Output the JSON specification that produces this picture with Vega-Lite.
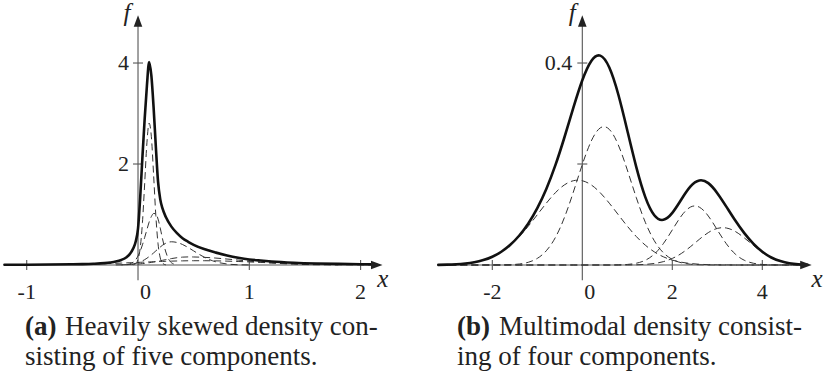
{
  "$schema": "https://vega.github.io/schema/vega-lite/v6.json",
  "background": "white",
  "padding": 0,
  "autosize": {"type": "pad"},
  "bounds": "flush",
  "columns": 2,
  "spacing": {"row": 62.5, "column": 20},
  "config": {
    "view": {"stroke": null},
    "font": "Liberation Serif",
    "text": {"font": "Liberation Serif"}
  },
  "datasets": {
    "skewed": [
      {"x": -1.2, "total": 0.004},
      {"x": -1.0, "total": 0.006},
      {"x": -0.8, "total": 0.009},
      {"x": -0.6, "total": 0.014, "c5": 0.0096},
      {"x": -0.5, "total": 0.018, "c5": 0.0137},
      {"x": -0.4, "total": 0.025, "c5": 0.0191},
      {"x": -0.3, "total": 0.038, "c5": 0.0258},
      {"x": -0.25, "total": 0.05, "c5": 0.0295},
      {"x": -0.2, "total": 0.068, "c4": 0.002, "c5": 0.0335},
      {"x": -0.15, "total": 0.1, "c3": 0.003, "c4": 0.004, "c5": 0.0378},
      {"x": -0.1, "total": 0.16, "c2": 0.008, "c3": 0.008, "c4": 0.007, "c5": 0.0423},
      {"x": -0.08, "total": 0.2, "c2": 0.017, "c3": 0.012, "c4": 0.009, "c5": 0.0441},
      {"x": -0.06, "total": 0.26, "c2": 0.033, "c3": 0.017, "c4": 0.011, "c5": 0.046},
      {"x": -0.04, "total": 0.34, "c1": 0.005, "c2": 0.061, "c3": 0.024, "c4": 0.013, "c5": 0.0478},
      {"x": -0.02, "total": 0.47, "c1": 0.027, "c2": 0.108, "c3": 0.034, "c4": 0.016, "c5": 0.0497},
      {"x": 0, "total": 0.72, "c1": 0.109, "c2": 0.178, "c3": 0.046, "c4": 0.02, "c5": 0.0516},
      {"x": 0.02, "total": 1.35, "c1": 0.344, "c2": 0.275, "c3": 0.062, "c4": 0.024, "c5": 0.0534},
      {"x": 0.04, "total": 2.15, "c1": 0.846, "c2": 0.4, "c3": 0.082, "c4": 0.028, "c5": 0.0553},
      {"x": 0.06, "total": 2.9, "c1": 1.62, "c2": 0.547, "c3": 0.106, "c4": 0.033, "c5": 0.0572},
      {"x": 0.08, "total": 3.55, "c1": 2.42, "c2": 0.7, "c3": 0.134, "c4": 0.039, "c5": 0.059},
      {"x": 0.1, "total": 4.02, "c1": 2.81, "c2": 0.85, "c3": 0.166, "c4": 0.045, "c5": 0.0608},
      {"x": 0.12, "total": 3.75, "c1": 2.54, "c2": 0.96, "c3": 0.201, "c4": 0.052, "c5": 0.0626},
      {"x": 0.14, "total": 3.12, "c1": 1.79, "c2": 1.02, "c3": 0.239, "c4": 0.059, "c5": 0.0644},
      {"x": 0.16, "total": 2.35, "c1": 0.98, "c2": 1.016, "c3": 0.279, "c4": 0.067, "c5": 0.0661},
      {"x": 0.18, "total": 1.65, "c1": 0.42, "c2": 0.91, "c3": 0.319, "c4": 0.075, "c5": 0.0678},
      {"x": 0.2, "total": 1.3, "c1": 0.14, "c2": 0.73, "c3": 0.356, "c4": 0.084, "c5": 0.0694},
      {"x": 0.22, "total": 1.12, "c1": 0.036, "c2": 0.52, "c3": 0.391, "c4": 0.093, "c5": 0.071},
      {"x": 0.25, "total": 0.95, "c1": 0.003, "c2": 0.257, "c3": 0.432, "c4": 0.106, "c5": 0.0733},
      {"x": 0.3, "total": 0.76, "c2": 0.045, "c3": 0.46, "c4": 0.127, "c5": 0.0767},
      {"x": 0.35, "total": 0.63, "c2": 0.004, "c3": 0.446, "c4": 0.144, "c5": 0.0796},
      {"x": 0.4, "total": 0.53, "c3": 0.406, "c4": 0.156, "c5": 0.0819},
      {"x": 0.45, "total": 0.46, "c3": 0.347, "c4": 0.16, "c5": 0.0836},
      {"x": 0.5, "total": 0.4, "c3": 0.279, "c4": 0.159, "c5": 0.0847},
      {"x": 0.6, "total": 0.31, "c3": 0.149, "c4": 0.151, "c5": 0.0847},
      {"x": 0.7, "total": 0.245, "c3": 0.062, "c4": 0.137, "c5": 0.0819},
      {"x": 0.8, "total": 0.19, "c3": 0.02, "c4": 0.118, "c5": 0.0767},
      {"x": 0.9, "total": 0.145, "c3": 0.005, "c4": 0.097, "c5": 0.0694},
      {"x": 1.0, "total": 0.11, "c3": 0.001, "c4": 0.076, "c5": 0.0608},
      {"x": 1.1, "total": 0.088, "c4": 0.056, "c5": 0.0516},
      {"x": 1.2, "total": 0.07, "c4": 0.04, "c5": 0.0423},
      {"x": 1.4, "total": 0.046, "c4": 0.017, "c5": 0.0258},
      {"x": 1.6, "total": 0.031, "c4": 0.006, "c5": 0.0137},
      {"x": 1.8, "total": 0.022, "c4": 0.002, "c5": 0.0064},
      {"x": 2.0, "total": 0.016, "c5": 0.0026},
      {"x": 2.14, "total": 0.013, "c5": 0.0013}
    ],
    "multimodal": [
      {"x": -3.2, "total": 0.0003, "A": 0, "B": 0.0003, "C": 0, "D": 0},
      {"x": -3.0, "total": 0.0007, "A": 0, "B": 0.0007, "C": 0, "D": 0},
      {"x": -2.8, "total": 0.0015, "A": 0, "B": 0.0015, "C": 0, "D": 0},
      {"x": -2.6, "total": 0.003, "A": 0, "B": 0.003, "C": 0, "D": 0},
      {"x": -2.4, "total": 0.0055, "A": 0, "B": 0.0055, "C": 0, "D": 0},
      {"x": -2.2, "total": 0.0097, "A": 0, "B": 0.0097, "C": 0, "D": 0},
      {"x": -2.0, "total": 0.0164, "A": 0.0001, "B": 0.0163, "C": 0, "D": 0},
      {"x": -1.8, "total": 0.0262, "A": 0.0002, "B": 0.026, "C": 0, "D": 0},
      {"x": -1.6, "total": 0.04, "A": 0.0007, "B": 0.0393, "C": 0, "D": 0},
      {"x": -1.4, "total": 0.0584, "A": 0.002, "B": 0.0564, "C": 0, "D": 0},
      {"x": -1.2, "total": 0.0823, "A": 0.0054, "B": 0.0769, "C": 0, "D": 0},
      {"x": -1.0, "total": 0.1127, "A": 0.0131, "B": 0.0996, "C": 0, "D": 0},
      {"x": -0.8, "total": 0.1506, "A": 0.0282, "B": 0.1224, "C": 0, "D": 0},
      {"x": -0.6, "total": 0.1972, "A": 0.0542, "B": 0.143, "C": 0, "D": 0},
      {"x": -0.4, "total": 0.252, "A": 0.0935, "B": 0.1585, "C": 0, "D": 0},
      {"x": -0.2, "total": 0.3111, "A": 0.1442, "B": 0.1669, "C": 0, "D": 0},
      {"x": 0, "total": 0.3659, "A": 0.199, "B": 0.1669, "C": 0, "D": 0},
      {"x": 0.2, "total": 0.4042, "A": 0.2457, "B": 0.1585, "C": 0, "D": 0},
      {"x": 0.4, "total": 0.4146, "A": 0.2716, "B": 0.143, "C": 0, "D": 0},
      {"x": 0.6, "total": 0.391, "A": 0.2686, "B": 0.1224, "C": 0, "D": 0},
      {"x": 0.8, "total": 0.3376, "A": 0.2377, "B": 0.0996, "C": 0.0003, "D": 0},
      {"x": 1.0, "total": 0.2664, "A": 0.1882, "B": 0.0769, "C": 0.0011, "D": 0.0001},
      {"x": 1.2, "total": 0.1938, "A": 0.1334, "B": 0.0564, "C": 0.0035, "D": 0.0004},
      {"x": 1.4, "total": 0.1345, "A": 0.0846, "B": 0.0393, "C": 0.0094, "D": 0.0012},
      {"x": 1.6, "total": 0.0986, "A": 0.048, "B": 0.026, "C": 0.0216, "D": 0.003},
      {"x": 1.8, "total": 0.0895, "A": 0.0244, "B": 0.0163, "C": 0.0422, "D": 0.0066},
      {"x": 2.0, "total": 0.1033, "A": 0.0111, "B": 0.0097, "C": 0.0695, "D": 0.013},
      {"x": 2.2, "total": 0.1298, "A": 0.0045, "B": 0.0055, "C": 0.097, "D": 0.0228},
      {"x": 2.4, "total": 0.1552, "A": 0.0016, "B": 0.003, "C": 0.1146, "D": 0.036},
      {"x": 2.6, "total": 0.1674, "A": 0.0005, "B": 0.0015, "C": 0.1146, "D": 0.0508},
      {"x": 2.8, "total": 0.1621, "A": 0.0002, "B": 0.0007, "C": 0.097, "D": 0.0642},
      {"x": 3.0, "total": 0.1423, "A": 0, "B": 0.0003, "C": 0.0695, "D": 0.0725},
      {"x": 3.2, "total": 0.1157, "A": 0, "B": 0.0002, "C": 0.0422, "D": 0.0733},
      {"x": 3.4, "total": 0.088, "A": 0, "B": 0, "C": 0.0216, "D": 0.0664},
      {"x": 3.6, "total": 0.0631, "A": 0, "B": 0, "C": 0.0094, "D": 0.0537},
      {"x": 3.8, "total": 0.0424, "A": 0, "B": 0, "C": 0.0035, "D": 0.0389},
      {"x": 4.0, "total": 0.0263, "A": 0, "B": 0, "C": 0.0011, "D": 0.0252},
      {"x": 4.2, "total": 0.0149, "A": 0, "B": 0, "C": 0.0003, "D": 0.0146},
      {"x": 4.4, "total": 0.0077, "A": 0, "B": 0, "C": 0, "D": 0.0076},
      {"x": 4.6, "total": 0.0035, "A": 0, "B": 0, "C": 0, "D": 0.0035},
      {"x": 4.8, "total": 0.0015, "A": 0, "B": 0, "C": 0, "D": 0.0015},
      {"x": 5.0, "total": 0.0006, "A": 0, "B": 0, "C": 0, "D": 0.0006}
    ]
  },
  "concat": [
    {
      "width": 395,
      "height": 265,
      "layer": [
        {
          "data": {"values": [{}]},
          "mark": {"type": "rule", "color": "#555", "strokeWidth": 1.1},
          "encoding": {
            "x": {"datum": -1.195, "type": "quantitative", "scale": {"domain": [-1.24, 2.309], "nice": false, "zero": false}, "axis": null},
            "x2": {"datum": 2.145},
            "y": {"datum": 0, "type": "quantitative", "scale": {"domain": [0, 5.248], "nice": false, "zero": false}, "axis": null}
          }
        },
        {
          "data": {"values": [{}]},
          "mark": {"type": "rule", "color": "#555", "strokeWidth": 1.1},
          "encoding": {
            "x": {"datum": 0, "type": "quantitative", "scale": {"domain": [-1.24, 2.309], "nice": false, "zero": false}, "axis": null},
            "y": {"datum": -0.3, "type": "quantitative", "scale": {"domain": [0, 5.248], "nice": false, "zero": false}, "axis": null},
            "y2": {"datum": 4.83}
          }
        },
        {
          "data": {"values": [{"v": -1}, {"v": 1}, {"v": 2}]},
          "mark": {"type": "tick", "orient": "vertical", "size": 10, "thickness": 1.1, "color": "#555", "opacity": 1},
          "encoding": {
            "x": {"field": "v", "type": "quantitative", "scale": {"domain": [-1.24, 2.309], "nice": false, "zero": false}, "axis": null},
            "y": {"datum": 0, "type": "quantitative", "scale": {"domain": [0, 5.248], "nice": false, "zero": false}, "axis": null}
          }
        },
        {
          "data": {"values": [{"v": 2}, {"v": 4}]},
          "mark": {"type": "tick", "orient": "horizontal", "size": 10, "thickness": 1.1, "color": "#555", "opacity": 1},
          "encoding": {
            "x": {"datum": 0, "type": "quantitative", "scale": {"domain": [-1.24, 2.309], "nice": false, "zero": false}, "axis": null},
            "y": {"field": "v", "type": "quantitative", "scale": {"domain": [0, 5.248], "nice": false, "zero": false}, "axis": null}
          }
        },
        {
          "data": {"name": "skewed"},
          "transform": [
            {"fold": ["c1", "c2", "c3", "c4", "c5"], "as": ["component", "f"]},
            {"filter": "isValid(datum.f)"}
          ],
          "mark": {"type": "line", "interpolate": "monotone", "color": "#333", "strokeWidth": 1, "strokeDash": [7, 4]},
          "encoding": {
            "x": {"field": "x", "type": "quantitative", "scale": {"domain": [-1.24, 2.309], "nice": false, "zero": false}, "axis": null},
            "y": {"field": "f", "type": "quantitative", "scale": {"domain": [0, 5.248], "nice": false, "zero": false}, "axis": null},
            "detail": {"field": "component"}
          }
        },
        {
          "data": {"name": "skewed"},
          "mark": {"type": "line", "interpolate": "monotone", "color": "#111", "strokeWidth": 2.6, "strokeJoin": "round", "strokeCap": "round"},
          "encoding": {
            "x": {"field": "x", "type": "quantitative", "scale": {"domain": [-1.24, 2.309], "nice": false, "zero": false}, "axis": null},
            "y": {"field": "total", "type": "quantitative", "scale": {"domain": [0, 5.248], "nice": false, "zero": false}, "axis": null}
          }
        },
        {
          "data": {"values": [{}]},
          "mark": {"type": "point", "shape": "M1,0L-1,-0.75L-1,0.75Z", "size": 132, "filled": true, "color": "#222", "opacity": 1, "strokeWidth": 0},
          "encoding": {
            "x": {"datum": 2.145, "type": "quantitative", "scale": {"domain": [-1.24, 2.309], "nice": false, "zero": false}, "axis": null},
            "y": {"datum": 0, "type": "quantitative", "scale": {"domain": [0, 5.248], "nice": false, "zero": false}, "axis": null}
          }
        },
        {
          "data": {"values": [{}]},
          "mark": {"type": "point", "shape": "M0,-1L-0.75,1L0.75,1Z", "size": 132, "filled": true, "color": "#222", "opacity": 1, "strokeWidth": 0},
          "encoding": {
            "x": {"datum": 0, "type": "quantitative", "scale": {"domain": [-1.24, 2.309], "nice": false, "zero": false}, "axis": null},
            "y": {"datum": 4.83, "type": "quantitative", "scale": {"domain": [0, 5.248], "nice": false, "zero": false}, "axis": null}
          }
        },
        {
          "data": {"values": [{"v": -1, "t": "-1"}, {"v": 1, "t": "1"}, {"v": 2, "t": "2"}]},
          "mark": {"type": "text", "font": "Liberation Serif", "align": "center", "baseline": "alphabetic", "dy": 34, "fontSize": 22, "color": "#222"},
          "encoding": {
            "x": {"field": "v", "type": "quantitative", "scale": {"domain": [-1.24, 2.309], "nice": false, "zero": false}, "axis": null},
            "y": {"datum": 0, "type": "quantitative", "scale": {"domain": [0, 5.248], "nice": false, "zero": false}, "axis": null},
            "text": {"field": "t"}
          }
        },
        {
          "data": {"values": [{"v": 0, "t": "0"}]},
          "mark": {"type": "text", "font": "Liberation Serif", "align": "left", "baseline": "alphabetic", "dx": 2, "dy": 34, "fontSize": 22, "color": "#222"},
          "encoding": {
            "x": {"field": "v", "type": "quantitative", "scale": {"domain": [-1.24, 2.309], "nice": false, "zero": false}, "axis": null},
            "y": {"datum": 0, "type": "quantitative", "scale": {"domain": [0, 5.248], "nice": false, "zero": false}, "axis": null},
            "text": {"field": "t"}
          }
        },
        {
          "data": {"values": [{"v": 2, "t": "2"}, {"v": 4, "t": "4"}]},
          "mark": {"type": "text", "font": "Liberation Serif", "align": "right", "baseline": "middle", "dx": -9, "fontSize": 22, "color": "#222"},
          "encoding": {
            "x": {"datum": 0, "type": "quantitative", "scale": {"domain": [-1.24, 2.309], "nice": false, "zero": false}, "axis": null},
            "y": {"field": "v", "type": "quantitative", "scale": {"domain": [0, 5.248], "nice": false, "zero": false}, "axis": null},
            "text": {"field": "t"}
          }
        },
        {
          "data": {"values": [{}]},
          "mark": {"type": "text", "text": "f", "font": "Liberation Serif", "fontStyle": "italic", "fontSize": 25, "align": "center", "baseline": "alphabetic", "dx": -11, "dy": 0, "color": "#222"},
          "encoding": {
            "x": {"datum": 0, "type": "quantitative", "scale": {"domain": [-1.24, 2.309], "nice": false, "zero": false}, "axis": null},
            "y": {"datum": 4.83, "type": "quantitative", "scale": {"domain": [0, 5.248], "nice": false, "zero": false}, "axis": null}
          }
        },
        {
          "data": {"values": [{}]},
          "mark": {"type": "text", "text": "x", "font": "Liberation Serif", "fontStyle": "italic", "fontSize": 25, "align": "center", "baseline": "alphabetic", "dx": 6, "dy": 22, "color": "#222"},
          "encoding": {
            "x": {"datum": 2.145, "type": "quantitative", "scale": {"domain": [-1.24, 2.309], "nice": false, "zero": false}, "axis": null},
            "y": {"datum": 0, "type": "quantitative", "scale": {"domain": [0, 5.248], "nice": false, "zero": false}, "axis": null}
          }
        }
      ]
    },
    {
      "width": 409,
      "height": 265,
      "layer": [
        {
          "data": {"values": [{}]},
          "mark": {"type": "rule", "color": "#555", "strokeWidth": 1.1},
          "encoding": {
            "x": {"datum": -3.21, "type": "quantitative", "scale": {"domain": [-3.718, 5.371], "nice": false, "zero": false}, "axis": null},
            "x2": {"datum": 4.97},
            "y": {"datum": 0, "type": "quantitative", "scale": {"domain": [0, 0.5248], "nice": false, "zero": false}, "axis": null}
          }
        },
        {
          "data": {"values": [{}]},
          "mark": {"type": "rule", "color": "#555", "strokeWidth": 1.1},
          "encoding": {
            "x": {"datum": 0, "type": "quantitative", "scale": {"domain": [-3.718, 5.371], "nice": false, "zero": false}, "axis": null},
            "y": {"datum": -0.03, "type": "quantitative", "scale": {"domain": [0, 0.5248], "nice": false, "zero": false}, "axis": null},
            "y2": {"datum": 0.483}
          }
        },
        {
          "data": {"values": [{"v": -2}, {"v": 2}, {"v": 4}]},
          "mark": {"type": "tick", "orient": "vertical", "size": 10, "thickness": 1.1, "color": "#555", "opacity": 1},
          "encoding": {
            "x": {"field": "v", "type": "quantitative", "scale": {"domain": [-3.718, 5.371], "nice": false, "zero": false}, "axis": null},
            "y": {"datum": 0, "type": "quantitative", "scale": {"domain": [0, 0.5248], "nice": false, "zero": false}, "axis": null}
          }
        },
        {
          "data": {"values": [{"v": 0.2}, {"v": 0.4}]},
          "mark": {"type": "tick", "orient": "horizontal", "size": 10, "thickness": 1.1, "color": "#555", "opacity": 1},
          "encoding": {
            "x": {"datum": 0, "type": "quantitative", "scale": {"domain": [-3.718, 5.371], "nice": false, "zero": false}, "axis": null},
            "y": {"field": "v", "type": "quantitative", "scale": {"domain": [0, 0.5248], "nice": false, "zero": false}, "axis": null}
          }
        },
        {
          "data": {"name": "multimodal"},
          "transform": [
            {"fold": ["A", "B", "C", "D"], "as": ["component", "f"]},
            {"filter": "isValid(datum.f)"}
          ],
          "mark": {"type": "line", "interpolate": "natural", "color": "#333", "strokeWidth": 1, "strokeDash": [7, 4]},
          "encoding": {
            "x": {"field": "x", "type": "quantitative", "scale": {"domain": [-3.718, 5.371], "nice": false, "zero": false}, "axis": null},
            "y": {"field": "f", "type": "quantitative", "scale": {"domain": [0, 0.5248], "nice": false, "zero": false}, "axis": null},
            "detail": {"field": "component"}
          }
        },
        {
          "data": {"name": "multimodal"},
          "mark": {"type": "line", "interpolate": "natural", "color": "#111", "strokeWidth": 2.6, "strokeJoin": "round", "strokeCap": "round"},
          "encoding": {
            "x": {"field": "x", "type": "quantitative", "scale": {"domain": [-3.718, 5.371], "nice": false, "zero": false}, "axis": null},
            "y": {"field": "total", "type": "quantitative", "scale": {"domain": [0, 0.5248], "nice": false, "zero": false}, "axis": null}
          }
        },
        {
          "data": {"values": [{}]},
          "mark": {"type": "point", "shape": "M1,0L-1,-0.75L-1,0.75Z", "size": 132, "filled": true, "color": "#222", "opacity": 1, "strokeWidth": 0},
          "encoding": {
            "x": {"datum": 4.97, "type": "quantitative", "scale": {"domain": [-3.718, 5.371], "nice": false, "zero": false}, "axis": null},
            "y": {"datum": 0, "type": "quantitative", "scale": {"domain": [0, 0.5248], "nice": false, "zero": false}, "axis": null}
          }
        },
        {
          "data": {"values": [{}]},
          "mark": {"type": "point", "shape": "M0,-1L-0.75,1L0.75,1Z", "size": 132, "filled": true, "color": "#222", "opacity": 1, "strokeWidth": 0},
          "encoding": {
            "x": {"datum": 0, "type": "quantitative", "scale": {"domain": [-3.718, 5.371], "nice": false, "zero": false}, "axis": null},
            "y": {"datum": 0.483, "type": "quantitative", "scale": {"domain": [0, 0.5248], "nice": false, "zero": false}, "axis": null}
          }
        },
        {
          "data": {"values": [{"v": -2, "t": "-2"}, {"v": 2, "t": "2"}, {"v": 4, "t": "4"}]},
          "mark": {"type": "text", "font": "Liberation Serif", "align": "center", "baseline": "alphabetic", "dy": 34, "fontSize": 22, "color": "#222"},
          "encoding": {
            "x": {"field": "v", "type": "quantitative", "scale": {"domain": [-3.718, 5.371], "nice": false, "zero": false}, "axis": null},
            "y": {"datum": 0, "type": "quantitative", "scale": {"domain": [0, 0.5248], "nice": false, "zero": false}, "axis": null},
            "text": {"field": "t"}
          }
        },
        {
          "data": {"values": [{"v": 0, "t": "0"}]},
          "mark": {"type": "text", "font": "Liberation Serif", "align": "left", "baseline": "alphabetic", "dx": 2, "dy": 34, "fontSize": 22, "color": "#222"},
          "encoding": {
            "x": {"field": "v", "type": "quantitative", "scale": {"domain": [-3.718, 5.371], "nice": false, "zero": false}, "axis": null},
            "y": {"datum": 0, "type": "quantitative", "scale": {"domain": [0, 0.5248], "nice": false, "zero": false}, "axis": null},
            "text": {"field": "t"}
          }
        },
        {
          "data": {"values": [{"v": 0.4, "t": "0.4"}]},
          "mark": {"type": "text", "font": "Liberation Serif", "align": "right", "baseline": "middle", "dx": -10, "fontSize": 22, "color": "#222"},
          "encoding": {
            "x": {"datum": 0, "type": "quantitative", "scale": {"domain": [-3.718, 5.371], "nice": false, "zero": false}, "axis": null},
            "y": {"field": "v", "type": "quantitative", "scale": {"domain": [0, 0.5248], "nice": false, "zero": false}, "axis": null},
            "text": {"field": "t"}
          }
        },
        {
          "data": {"values": [{}]},
          "mark": {"type": "text", "text": "f", "font": "Liberation Serif", "fontStyle": "italic", "fontSize": 25, "align": "center", "baseline": "alphabetic", "dx": -10, "dy": 0, "color": "#222"},
          "encoding": {
            "x": {"datum": 0, "type": "quantitative", "scale": {"domain": [-3.718, 5.371], "nice": false, "zero": false}, "axis": null},
            "y": {"datum": 0.483, "type": "quantitative", "scale": {"domain": [0, 0.5248], "nice": false, "zero": false}, "axis": null}
          }
        },
        {
          "data": {"values": [{}]},
          "mark": {"type": "text", "text": "x", "font": "Liberation Serif", "fontStyle": "italic", "fontSize": 25, "align": "center", "baseline": "alphabetic", "dx": 11, "dy": 22, "color": "#222"},
          "encoding": {
            "x": {"datum": 4.97, "type": "quantitative", "scale": {"domain": [-3.718, 5.371], "nice": false, "zero": false}, "axis": null},
            "y": {"datum": 0, "type": "quantitative", "scale": {"domain": [0, 0.5248], "nice": false, "zero": false}, "axis": null}
          }
        }
      ]
    },
    {
      "width": 395,
      "height": 45,
      "data": {"values": [
        {"line": 1, "part": "label", "t": "(a)"},
        {"line": 1, "part": "rest", "t": "Heavily skewed density con-"},
        {"line": 2, "part": "wrap", "t": "sisting of five components."}
      ]},
      "encoding": {
        "x": {"value": 25},
        "y": {"field": "line", "type": "ordinal", "axis": null, "scale": {"type": "point", "domain": [1, 2], "padding": 0.25}},
        "text": {"field": "t"}
      },
      "layer": [
        {
          "transform": [{"filter": "datum.part === 'label'"}],
          "mark": {"type": "text", "font": "Liberation Serif", "align": "left", "baseline": "alphabetic", "fontSize": 27, "fontWeight": "bold", "color": "#222"}
        },
        {
          "transform": [{"filter": "datum.part === 'rest'"}],
          "mark": {"type": "text", "font": "Liberation Serif", "align": "left", "baseline": "alphabetic", "fontSize": 27, "dx": 40, "color": "#222"}
        },
        {
          "transform": [{"filter": "datum.part === 'wrap'"}],
          "mark": {"type": "text", "font": "Liberation Serif", "align": "left", "baseline": "alphabetic", "fontSize": 27, "color": "#222"}
        }
      ]
    },
    {
      "width": 409,
      "height": 45,
      "data": {"values": [
        {"line": 1, "part": "label", "t": "(b)"},
        {"line": 1, "part": "rest", "t": "Multimodal density consist-"},
        {"line": 2, "part": "wrap", "t": "ing of four components."}
      ]},
      "encoding": {
        "x": {"value": 42},
        "y": {"field": "line", "type": "ordinal", "axis": null, "scale": {"type": "point", "domain": [1, 2], "padding": 0.25}},
        "text": {"field": "t"}
      },
      "layer": [
        {
          "transform": [{"filter": "datum.part === 'label'"}],
          "mark": {"type": "text", "font": "Liberation Serif", "align": "left", "baseline": "alphabetic", "fontSize": 27, "fontWeight": "bold", "color": "#222"}
        },
        {
          "transform": [{"filter": "datum.part === 'rest'"}],
          "mark": {"type": "text", "font": "Liberation Serif", "align": "left", "baseline": "alphabetic", "fontSize": 27, "dx": 42, "color": "#222"}
        },
        {
          "transform": [{"filter": "datum.part === 'wrap'"}],
          "mark": {"type": "text", "font": "Liberation Serif", "align": "left", "baseline": "alphabetic", "fontSize": 27, "color": "#222"}
        }
      ]
    }
  ]
}
